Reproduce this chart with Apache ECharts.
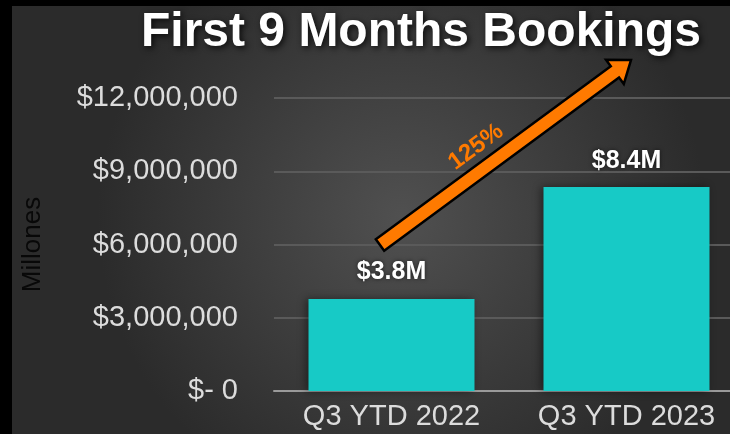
<!DOCTYPE html>
<html>
<head>
    <meta charset="UTF-8">
    <title>First 9 Months Bookings</title>
    <script type="text/javascript" src="https://cdn.jsdelivr.net/npm/echarts@6/dist/echarts.min.js"></script>
    <style type="text/css">
        html, body { margin: 0; padding: 0; background: #000; }
        #chart { width: 730px; height: 434px; }
    </style>
</head>
<body>
<div id="chart"></div>
<script type="text/javascript">
    // data
    var categories = ['Q3 YTD 2022', 'Q3 YTD 2023'];
    var bookings = [3770000, 8350000];
    var barLabels = ['$3.8M', '$8.4M'];
    var tickValues = [0, 3000000, 6000000, 9000000, 12000000];
    var tickLabels = ['$- 0', '$3,000,000', '$6,000,000', '$9,000,000', '$12,000,000'];
    var growthLabel = '125%';

    // arrow annotation (pixels): tail and tip
    var tail = [380, 245];
    var tip = [631, 60];

    function arrowPoints(a, b, shaftHalf, headLen, headHalf) {
        var dx = b[0] - a[0], dy = b[1] - a[1];
        var len = Math.sqrt(dx * dx + dy * dy);
        var ux = dx / len, uy = dy / len;
        var nx = -uy, ny = ux;
        var bx = b[0] - ux * headLen, by = b[1] - uy * headLen;
        return [
            [a[0] + nx * shaftHalf, a[1] + ny * shaftHalf],
            [bx + nx * shaftHalf, by + ny * shaftHalf],
            [bx + nx * headHalf, by + ny * headHalf],
            [b[0], b[1]],
            [bx - nx * headHalf, by - ny * headHalf],
            [bx - nx * shaftHalf, by - ny * shaftHalf],
            [a[0] - nx * shaftHalf, a[1] - ny * shaftHalf]
        ];
    }

    var angle = Math.atan2(tail[1] - tip[1], tip[0] - tail[0]);

    var chart = echarts.init(document.getElementById('chart'));
    chart.setOption({
        animation: false,
        backgroundColor: {
            type: 'radial', x: 0.55, y: 0.5, r: 0.7,
            colorStops: [{offset: 0, color: '#505050'}, {offset: 1, color: '#2b2b2b'}]
        },
        title: {
            text: 'First 9 Months Bookings',
            left: 136,
            top: 4,
            textStyle: {
                color: '#ffffff',
                fontFamily: 'Liberation Sans',
                fontWeight: 'bold',
                fontSize: 48,
                textShadowColor: 'rgba(0,0,0,0.8)',
                textShadowBlur: 6,
                textShadowOffsetX: 2,
                textShadowOffsetY: 2
            }
        },
        // the grid runs past the right edge, as in the original slide
        grid: {left: 274, width: 470, top: 98, bottom: 43, outerBoundsMode: 'none', containLabel: false},
        xAxis: {
            type: 'category',
            data: categories,
            axisLine: {lineStyle: {color: '#9a9a9a', width: 2}},
            axisTick: {show: false},
            axisLabel: {
                color: '#dcdcdc',
                fontFamily: 'Liberation Sans',
                fontSize: 29,
                margin: 11
            }
        },
        yAxis: {
            type: 'value',
            min: 0,
            max: 12000000,
            interval: 3000000,
            name: 'Millones',
            nameLocation: 'middle',
            nameRotate: 90,
            nameGap: 228,
            nameTextStyle: {color: '#080808', fontFamily: 'Liberation Sans', fontSize: 26},
            axisLine: {show: false},
            axisTick: {show: false},
            splitLine: {lineStyle: {color: '#5a5a5a', width: 2}},
            axisLabel: {
                color: '#dcdcdc',
                fontFamily: 'Liberation Sans',
                fontSize: 29,
                margin: 36,
                formatter: function (v) {
                    var i = tickValues.indexOf(v);
                    return i >= 0 ? tickLabels[i] : '';
                }
            }
        },
        series: [{
            type: 'bar',
            data: bookings,
            barWidth: 166,
            itemStyle: {
                color: '#17cac6',
                shadowColor: 'rgba(0,0,0,0.45)',
                shadowBlur: 8,
                shadowOffsetX: -3
            },
            label: {
                show: true,
                position: 'top',
                distance: 14,
                color: '#ffffff',
                fontFamily: 'Liberation Sans',
                fontWeight: 'bold',
                fontSize: 25,
                textShadowColor: 'rgba(0,0,0,0.6)',
                textShadowBlur: 4,
                formatter: function (p) { return barLabels[p.dataIndex]; }
            }
        }],
        graphic: [
            {type: 'rect', shape: {x: 0, y: 0, width: 12, height: 434}, style: {fill: '#000'}, z: 10},
            {type: 'rect', shape: {x: 0, y: 0, width: 730, height: 6}, style: {fill: '#000'}, z: 10},
            {
                type: 'polygon',
                shape: {points: arrowPoints(tail, tip, 7, 20, 15)},
                style: {fill: '#ff7a00', stroke: '#000', lineWidth: 2.5, lineJoin: 'miter'},
                z: 20
            },
            {
                type: 'text',
                x: 476,
                y: 147,
                rotation: angle,
                style: {
                    text: growthLabel,
                    fill: '#ff7a00',
                    font: 'bold 24px "Liberation Sans"',
                    align: 'center',
                    verticalAlign: 'middle'
                },
                z: 20
            }
        ]
    });
</script>
</body>
</html>
